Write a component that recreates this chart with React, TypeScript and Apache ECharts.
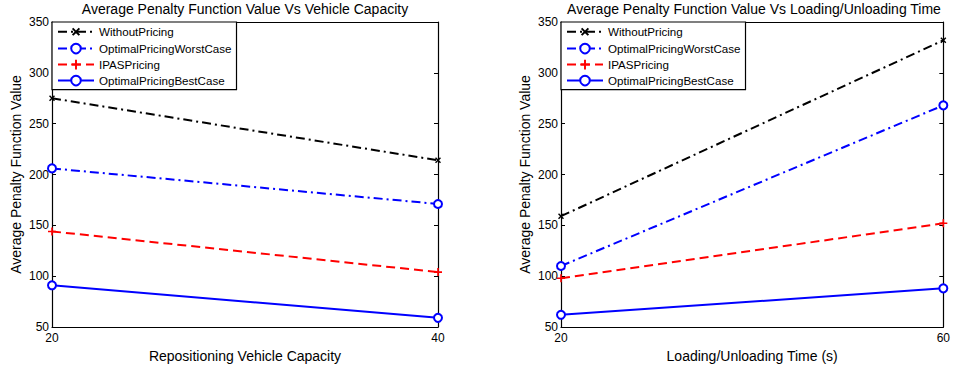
import React, { useEffect, useRef } from "react";
import * as echarts from "echarts";

const capacityCategories = ["20", "40"];
const timeCategories = ["20", "60"];
const seriesNames = ["WithoutPricing", "OptimalPricingWorstCase", "IPASPricing", "OptimalPricingBestCase"];

const capWithout = [275, 214];
const capWorst = [206, 171];
const capIpas = [144, 104];
const capBest = [91, 59];

const timeWithout = [159, 332];
const timeWorst = [110, 268];
const timeIpas = [98, 152];
const timeBest = [62, 88];

const yTicks = { min: 50, max: 350, interval: 50 };

const FONT = "'Liberation Sans', Arial, Helvetica, sans-serif";
const PLUS = "path://M4,0h2v4h4v2h-4v4h-2v-4h-4v-2h4z";

export default function App() {
  const ref = useRef<HTMLDivElement>(null);
  useEffect(() => {
    if (!ref.current) return;
    const chart = echarts.init(ref.current, undefined, { renderer: "svg" });
    const grids = [
      { left: 52, top: 22, width: 386, height: 305 },
      { left: 561, top: 22, width: 386, height: 305 },
    ];
    const axisLine = { show: true, lineStyle: { color: "#000", width: 1.2 } };
    const xAxes: any[] = [];
    const yAxes: any[] = [];
    [capacityCategories, timeCategories].forEach((cats, i) => {
      xAxes.push({
        type: "category",
        gridIndex: i,
        data: cats,
        boundaryGap: false,
        position: "bottom",
        name: i === 0 ? "Repositioning Vehicle Capacity" : "Loading/Unloading Time (s)",
        nameLocation: "middle",
        nameGap: 16,
        nameTextStyle: { color: "#000", fontSize: 14, fontFamily: FONT, verticalAlign: "top" },
        axisLine,
        axisTick: { show: false },
        axisLabel: { color: "#000", fontSize: 12, fontFamily: FONT, margin: 5 },
        splitLine: { show: false },
      });
      xAxes.push({
        type: "category",
        gridIndex: i,
        data: cats,
        boundaryGap: false,
        position: "top",
        axisLine,
        axisTick: { show: false },
        axisLabel: { show: false },
        splitLine: { show: false },
      });
      yAxes.push({
        type: "value",
        gridIndex: i,
        position: "left",
        ...yTicks,
        name: "Average Penalty Function Value",
        nameLocation: "middle",
        nameGap: 29,
        nameTextStyle: { color: "#000", fontSize: 14, fontFamily: FONT },
        axisLine,
        axisTick: { show: true, inside: true, length: 4, lineStyle: { color: "#000" } },
        axisLabel: { color: "#000", fontSize: 12, fontFamily: FONT, margin: 3 },
        splitLine: { show: false },
      });
      yAxes.push({
        type: "value",
        gridIndex: i,
        position: "right",
        ...yTicks,
        axisLine,
        axisTick: { show: true, inside: true, length: 4, lineStyle: { color: "#000" } },
        axisLabel: { show: false },
        splitLine: { show: false },
      });
    });

    const styles = [
      { color: "#000000", type: [9, 4, 2, 4], symbol: PLUS, symbolSize: 7, symbolRotate: 45 },
      { color: "#0000ff", type: [9, 4, 2, 4], symbol: "emptyCircle", symbolSize: 8, symbolRotate: 0 },
      { color: "#ff0000", type: [9, 5], symbol: PLUS, symbolSize: 8, symbolRotate: 0 },
      { color: "#0000ff", type: "solid", symbol: "emptyCircle", symbolSize: 8, symbolRotate: 0 },
    ];

    const makeSeries = (gi: number, vals: number[][]) =>
      vals.map((v, k) => ({
        name: seriesNames[k],
        type: "line",
        xAxisIndex: gi * 2,
        yAxisIndex: gi * 2,
        data: v,
        symbol: styles[k].symbol,
        symbolSize: styles[k].symbolSize,
        symbolRotate: styles[k].symbolRotate,
        showSymbol: true,
        lineStyle: { color: styles[k].color, width: 2, type: styles[k].type },
        itemStyle: {
          color: styles[k].color,
          borderColor: styles[k].color,
          borderWidth: styles[k].symbol === "emptyCircle" ? 2 : 0,
        },
        z: 10 - k,
      }));

    const legendBase = {
      orient: "vertical",
      top: 22,
      data: seriesNames,
      backgroundColor: "#fff",
      borderColor: "#000",
      borderWidth: 1.2,
      borderRadius: 0,
      padding: [3, 5, 3, 5],
      itemGap: 4,
      itemWidth: 36,
      itemHeight: 12,
      textStyle: { color: "#000", fontSize: 11.6, fontFamily: FONT },
      selectedMode: false,
    };

    const titleStyle = { color: "#000", fontSize: 14, fontWeight: "normal", fontFamily: FONT };

    chart.setOption({
      animation: false,
      backgroundColor: "#fff",
      title: [
        { text: "Average Penalty Function Value Vs Vehicle Capacity", left: 245, top: 2, padding: 0, textAlign: "center", textStyle: titleStyle },
        { text: "Average Penalty Function Value Vs Loading/Unloading Time", left: 754, top: 2, padding: 0, textAlign: "center", textStyle: titleStyle },
      ],
      legend: [
        { ...legendBase, left: 52 },
        { ...legendBase, left: 561 },
      ],
      grid: grids,
      xAxis: xAxes,
      yAxis: yAxes,
      series: [
        ...makeSeries(0, [capWithout, capWorst, capIpas, capBest]),
        ...makeSeries(1, [timeWithout, timeWorst, timeIpas, timeBest]),
      ],
    });
    return () => chart.dispose();
  }, []);
  return <div ref={ref} style={{ position: "fixed", left: 0, top: 0, width: 953, height: 368 }} />;
}
